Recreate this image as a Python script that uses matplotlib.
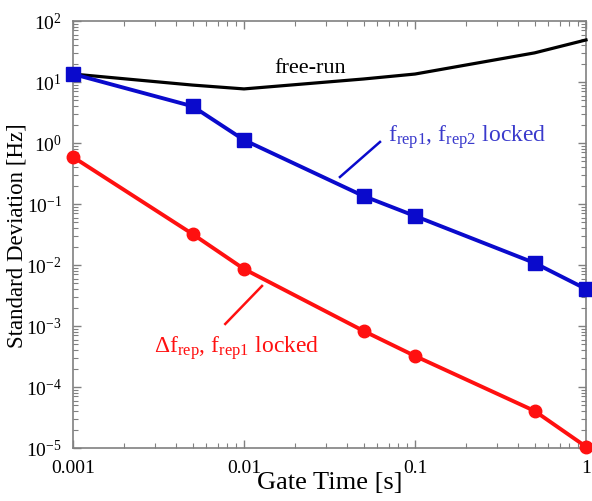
import numpy as np
import matplotlib.pyplot as plt
from matplotlib.ticker import FixedLocator, NullFormatter

plt.rcParams['font.family'] = ['Liberation Serif', 'DejaVu Serif']
plt.rcParams['mathtext.fontset'] = 'custom'
plt.rcParams['mathtext.rm'] = 'Liberation Serif'
plt.rcParams['mathtext.it'] = 'Liberation Serif:italic'

# gate times [s]
gate = [0.001, 0.005, 0.01, 0.05, 0.1, 0.5, 1]

# standard deviation [Hz]
free_run = [13.5, 8.9, 7.7, 11.2, 13.5, 30.0, 48.9]
frep_locked = [13.5, 4.0, 1.12, 0.135, 0.0635, 0.0108, 0.00404]
dfrep_locked = [0.589, 0.0322, 0.0086, 0.00083, 0.000322, 4.05e-5, 1.05e-5]

xtick_vals = [0.001, 0.01, 0.1, 1]
xtick_text = ['0.001', '0.01', '0.1', '1']
ytick_exps = [-5, -4, -3, -2, -1, 0, 1, 2]

blue = '#0a0acc'
red = '#ff1010'
gray = '#808080'

fig = plt.figure(figsize=(5.92, 5.02), dpi=100)
ax = fig.add_axes([0.1233, 0.1056, 0.8666, 0.8506])

ax.plot(gate, free_run, color='black', lw=2.3, clip_on=False, zorder=3)
ax.plot(gate, frep_locked, color=blue, lw=2.8, marker='s', ms=9.5,
        clip_on=False, zorder=4)
ax.plot(gate, dfrep_locked, color=red, lw=2.8, marker='o', ms=9,
        clip_on=False, zorder=4)

ax.set_xscale('log')
ax.set_yscale('log')
ax.set_xlim(0.001, 1)
ax.set_ylim(1e-5, 1e2)

ax.set_xticks(xtick_vals)
ax.set_xticklabels(xtick_text)
x_minor = [m * 10.0**e for e in range(-3, 0) for m in range(2, 10)]
ax.xaxis.set_minor_locator(FixedLocator(x_minor))
ax.xaxis.set_minor_formatter(NullFormatter())

ax.set_yticks([10.0**e for e in ytick_exps])
ax.set_yticklabels([r'$\mathregular{10^{%d}}$' % e for e in ytick_exps])
y_minor = [m * 10.0**e for e in ytick_exps[:-1] for m in range(2, 10)]
ax.yaxis.set_minor_locator(FixedLocator(y_minor))
ax.yaxis.set_minor_formatter(NullFormatter())

for s in ax.spines.values():
    s.set_color(gray)
    s.set_linewidth(1.2)
ax.tick_params(which='both', direction='in', top=True, right=True, color=gray)
ax.tick_params(which='major', length=6, width=1, labelsize=14, pad=8)
ax.tick_params(which='minor', length=3.5, width=0.8)

ax.set_xlabel('Gate Time [s]', fontsize=19, labelpad=-4)
ax.set_ylabel('Standard Deviation [Hz]', fontsize=16.5, labelpad=-1)

# annotations
ax.text(0.0243, 17.6, 'free-run', fontsize=16, ha='center', va='center')

ax.plot([0.0364, 0.0624], [0.277, 1.04], color=blue, lw=1.8)
ax.text(0.0697, 1.30, r'f$_{\mathregular{rep1}}$, f$_{\mathregular{rep2}}$ locked',
        fontsize=17, color='#3a3acc', ha='left', va='center')

ax.plot([0.00777, 0.01274], [1.08e-3, 4.53e-3], color=red, lw=1.8)
ax.text(0.0091, 4.5e-4, r'$\Delta$f$_{\mathregular{rep}}$, f$_{\mathregular{rep1}}$ locked',
        fontsize=17, color=red, ha='center', va='center')

fig.savefig('out.png', dpi=100)
